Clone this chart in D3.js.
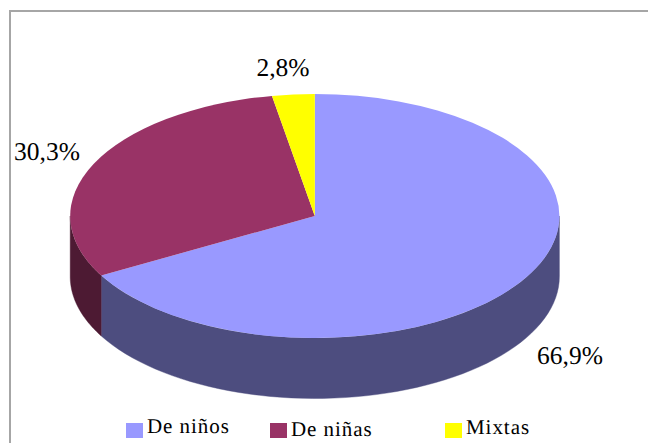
<!DOCTYPE html>
<html>
<head>
<meta charset="utf-8">
<script src="https://cdn.jsdelivr.net/npm/d3@7"></script>
<style>
  html, body { margin: 0; padding: 0; background: #fff; }
  svg { display: block; }
  text { font-family: "Liberation Serif", serif; fill: #000; text-rendering: geometricPrecision; }
</style>
</head>
<body>
<div id="chart"></div>
<script>
const categories = ["De niños", "De niñas", "Mixtas"];
const values = [66.9, 30.3, 2.8];
const valueLabels = ["66,9%", "30,3%", "2,8%"];
const topColors = ["#9999ff", "#993366", "#ffff00"];
const wallColors = ["#4d4d7f", "#4d1a33", "#808000"];

const width = 648, height = 443;
const cx = 314.8, cy = 216, rx = 244.6, ry = 122, depth = 60.5;

// label anchors and legend spots
const labelPos = [[570, 364], [47, 160], [283, 76]];
const legendPos = [[126, 433], [270, 436], [445, 434]];

const svg = d3.select("#chart").append("svg")
  .attr("width", width)
  .attr("height", height);

svg.append("path")
  .attr("d", "M10,443V11H648")
  .attr("fill", "none")
  .attr("stroke", "#a6a6a6")
  .attr("stroke-width", 2);

const slices = d3.pie().sort(null)(values);

const px = d3.scaleLinear().domain([-1, 1]).range([cx - rx, cx + rx]);
const py = d3.scaleLinear().domain([-1, 1]).range([cy - ry, cy + ry]);

const edge = (a, dy = 0) => [px(Math.sin(a)), py(-Math.cos(a)) + dy];
const line = d3.line();

function wallPath(start, end) {
  const steps = d3.range(0, 61).map((i) => start + (end - start) * i / 60);
  return line([
    ...steps.map((a) => edge(a)),
    ...steps.reverse().map((a) => edge(a, depth)),
  ]) + "Z";
}

// only the front half of the rim is visible
const walls = svg.append("g");
slices.forEach((d) => {
  const start = Math.max(d.startAngle, Math.PI / 2);
  const end = Math.min(d.endAngle, 3 * Math.PI / 2);
  if (end <= start) return;
  walls.append("path")
    .attr("d", wallPath(start, end))
    .attr("fill", wallColors[d.index])
    .attr("stroke", wallColors[d.index])
    .attr("stroke-width", 0.4);
});

const arc = d3.arc().innerRadius(0).outerRadius(rx);
svg.append("g")
  .attr("transform", `translate(${cx},${cy}) scale(1,${ry / rx})`)
  .selectAll("path")
  .data(slices)
  .join("path")
  .attr("d", arc)
  .attr("fill", (d) => topColors[d.index]);

svg.append("g")
  .selectAll("text")
  .data(valueLabels)
  .join("text")
  .attr("x", (d, i) => labelPos[i][0])
  .attr("y", (d, i) => labelPos[i][1])
  .attr("text-anchor", "middle")
  .attr("font-size", 25.5)
  .text((d) => d);

const legend = svg.append("g")
  .selectAll("g")
  .data(categories)
  .join("g");

legend.append("rect")
  .attr("x", (d, i) => legendPos[i][0])
  .attr("y", 423)
  .attr("width", 17)
  .attr("height", 15)
  .attr("fill", (d, i) => topColors[i]);

legend.append("text")
  .attr("x", (d, i) => legendPos[i][0] + 21)
  .attr("y", (d, i) => legendPos[i][1])
  .attr("font-size", 21)
  .attr("letter-spacing", 0.95)
  .text((d) => d);
</script>
</body>
</html>
